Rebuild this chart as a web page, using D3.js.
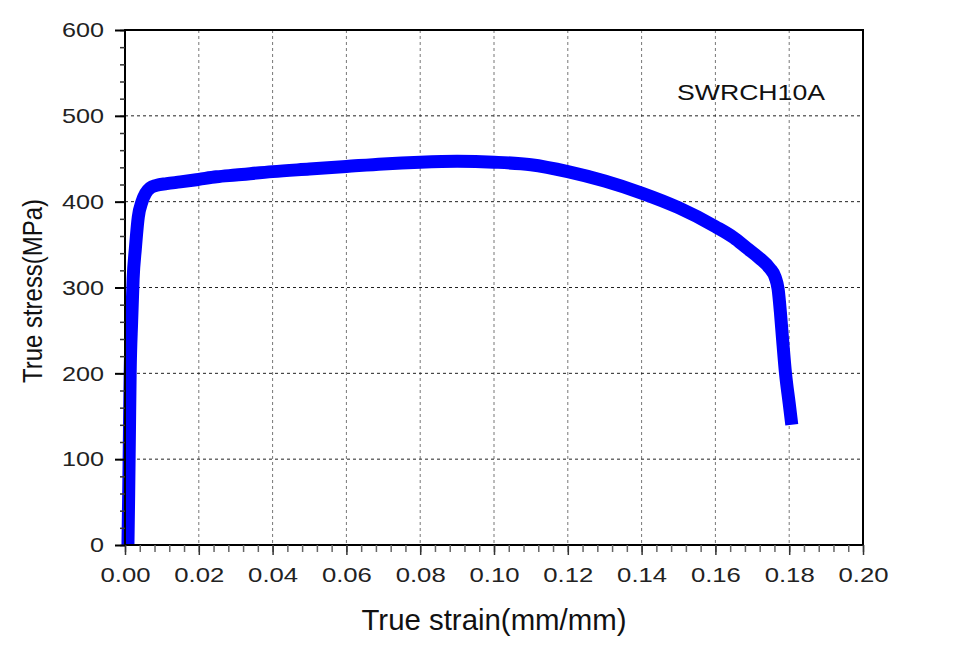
<!DOCTYPE html>
<html><head><meta charset="utf-8">
<script src="https://cdn.jsdelivr.net/npm/d3@7"></script>
<style>body{margin:0;background:#fff}svg{display:block}text{font-family:"Liberation Sans",Arial,sans-serif}</style>
</head><body>
<script>
const strain = [0.0008,0.0010,0.0012,0.0014,0.0018,0.0022,0.0028,0.0036,0.0046,0.0056,0.0068,0.0085,0.0113,0.0150,0.0200,0.0248,0.0300,0.0400,0.0500,0.0600,0.0700,0.0800,0.0900,0.1000,0.1100,0.1200,0.1300,0.1400,0.1500,0.1600,0.1650,0.1685,0.1720,0.1748,0.1762,0.1770,0.1776,0.1782,0.1790,0.1800,0.1807];
const stress = [0,60,130,200,260,310,345,382,400,410,416,419,421,423,426,429,431,435,438,441,444,446,447,446,443,435,424,410,393,371,358,346,334,322,312,298,272,240,200,165,140];
const xTicks = [0,0.02,0.04,0.06,0.08,0.10,0.12,0.14,0.16,0.18,0.20];
const yTicks = [0,100,200,300,400,500,600];
const label = "SWRCH10A";

const W=955,H=651, L=125,R=863,T=30,B=545;
const svg=d3.select("body").append("svg").attr("width",W).attr("height",H);
const x=d3.scaleLinear().domain([0,0.2]).range([L,R]);
const y=d3.scaleLinear().domain([0,600]).range([B,T]);

// grid
const g=svg.append("g");
g.selectAll(".vg").data(xTicks.slice(1,-1)).enter().append("line")
 .attr("x1",d=>x(d)).attr("x2",d=>x(d)).attr("y1",T).attr("y2",B)
 .attr("stroke","#777").attr("stroke-width",1).attr("stroke-dasharray","3,3");
g.selectAll(".hg").data(yTicks.slice(1,-1)).enter().append("line")
 .attr("y1",d=>y(d)).attr("y2",d=>y(d)).attr("x1",L).attr("x2",R)
 .attr("stroke","#222").attr("stroke-width",1).attr("stroke-dasharray","3,3");

// curve
svg.append("path").datum(stress)
 .attr("d",d3.line().x((d,i)=>x(strain[i])).y(d=>y(d)).curve(d3.curveMonotoneX))
 .attr("fill","none").attr("stroke","#0000ff").attr("stroke-width",13)
 .attr("stroke-linejoin","round").attr("stroke-linecap","butt");

// frame
svg.append("rect").attr("x",L).attr("y",T).attr("width",R-L).attr("height",B-T)
 .attr("fill","none").attr("stroke","#000").attr("stroke-width",2);

// x axis
const xMinor=d3.range(0,0.2001,0.004);
const xa=svg.append("g").attr("transform",`translate(0,${B})`);
xa.call(d3.axisBottom(x).tickValues(xMinor).tickSize(7).tickFormat(""));
xa.select(".domain").remove();
xa.selectAll("line").attr("stroke","#666").attr("stroke-width",1.5);
const xb=svg.append("g").attr("transform",`translate(0,${B})`);
xb.call(d3.axisBottom(x).tickValues(xTicks).tickSize(10).tickFormat(d3.format(".2f")));
xb.select(".domain").remove();
xb.selectAll("line").attr("stroke","#333").attr("stroke-width",1.5);
xb.selectAll("text").attr("y",37).attr("dy",0).attr("font-size",20).attr("fill","#222")
 .attr("font-family","Liberation Sans, Arial, sans-serif")
 .attr("textLength",50).attr("lengthAdjust","spacingAndGlyphs");

// y axis
const yMinor=d3.range(0,601,20);
const ya=svg.append("g").attr("transform",`translate(${L},0)`);
ya.call(d3.axisLeft(y).tickValues(yMinor).tickSize(5).tickFormat(""));
ya.select(".domain").remove();
ya.selectAll("line").attr("stroke","#333").attr("stroke-width",1.5);
const yb=svg.append("g").attr("transform",`translate(${L},0)`);
yb.call(d3.axisLeft(y).tickValues(yTicks).tickSize(10).tickPadding(11).tickFormat(d3.format("d")));
yb.select(".domain").remove();
yb.selectAll("line").attr("stroke","#000").attr("stroke-width",2);
yb.selectAll("text").attr("font-size",21).attr("fill","#222")
 .attr("font-family","Liberation Sans, Arial, sans-serif")
 .attr("textLength",d=>String(d).length*14).attr("lengthAdjust","spacingAndGlyphs");

// titles
svg.append("text").attr("x",494).attr("y",630).attr("text-anchor","middle")
 .attr("font-size",29).attr("fill","#111")
 .attr("textLength",265).attr("lengthAdjust","spacingAndGlyphs").text("True strain(mm/mm)");
svg.append("text").attr("transform",`translate(42,291) rotate(-90)`).attr("text-anchor","middle")
 .attr("font-size",28).attr("fill","#111")
 .attr("textLength",184).attr("lengthAdjust","spacingAndGlyphs").text("True stress(MPa)");
svg.append("text").attr("x",751).attr("y",100).attr("text-anchor","middle")
 .attr("font-size",22).attr("fill","#111")
 .attr("textLength",148).attr("lengthAdjust","spacingAndGlyphs").text(label);
</script>
</body></html>
